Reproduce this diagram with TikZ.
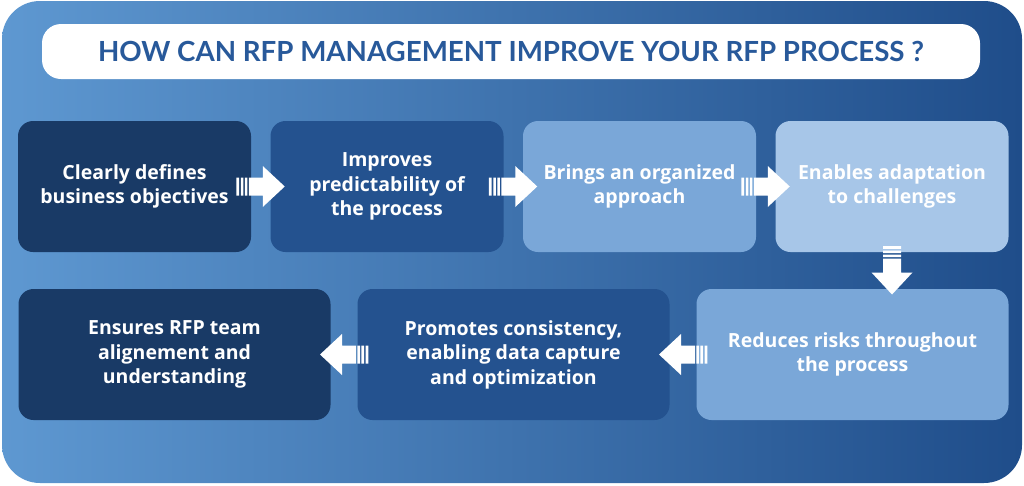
\documentclass[tikz,border=0pt]{standalone}
\usepackage{fontspec}
\setmainfont{Open Sans}
\newfontfamily\titlefont{Lato}
\usetikzlibrary{positioning}
\definecolor{bgleft}{HTML}{5E98D1}
\definecolor{bgright}{HTML}{1F4D8A}
\definecolor{titleblue}{HTML}{28599A}
\definecolor{navybox}{HTML}{193A66}
\definecolor{midbox}{HTML}{24528F}
\definecolor{lightbox}{HTML}{7AA7D8}
\definecolor{paleBox}{HTML}{A7C6E8}
\begin{document}
\begin{tikzpicture}
         [x=1pt, y=-1pt,
          step box/.style={rounded corners=15pt, inner sep=0pt, outer sep=0pt, minimum height=131pt,
                           text=white, align=center, font=\bfseries\fontsize{19.5}{24.5}\selectfont},
          short box/.style={step box, minimum width=233pt},
          long box/.style={step box, minimum width=312pt},
          stripe arrow/.pic={
             \fill[white] (-24.3,-9) rectangle (-21.7,9) (-20,-9) rectangle (-17.3,9) (-16,-9) rectangle (-13.3,9);
             \fill[white] (-12,-9) -- (2,-9) -- (2,-20.5) -- (24,0) -- (2,20.5) -- (2,9) -- (-12,9) -- cycle;
          }]
         \useasboundingbox (0,0) rectangle (1024,485);
         \shade[left color=bgleft, right color=bgright, rounded corners=38pt] (2,1) rectangle (1022,483);

         \node[fill=white, rounded corners=19pt, minimum width=938pt, minimum height=55pt, inner sep=0pt,
               text=titleblue, font=\titlefont\bfseries\fontsize{27.7}{30}\selectfont] (title) at (511,51.5)
               {HOW CAN RFP MANAGEMENT IMPROVE YOUR RFP PROCESS ?};

         \node[short box, fill=navybox] (b1) at (134.5,186.5) {Clearly defines\\business objectives};
         \node[short box, fill=midbox, right=19.5pt of b1] (b2) {Improves\\predictability of\\the process};
         \node[short box, fill=lightbox, right=19.5pt of b2] (b3) {Brings an organized\\approach};
         \node[short box, fill=paleBox, right=19.5pt of b3] (b4) {Enables adaptation\\to challenges};
         \node[long box, fill=lightbox, below=37pt of b4.south east, anchor=north east] (b5) {Reduces risks throughout\\the process};
         \node[long box, fill=midbox, left=27pt of b5] (b6) {Promotes consistency,\\enabling data capture\\and optimization};
         \node[long box, fill=navybox, left=27pt of b6] (b7) {Ensures RFP team\\alignement and\\understanding};

         \path (b1.east) -- pic[pos=0.5, sloped, allow upside down] {stripe arrow} (b2.west);
         \path (b2.east) -- pic[pos=0.5, sloped, allow upside down] {stripe arrow} (b3.west);
         \path (b3.east) -- pic[pos=0.5, sloped, allow upside down] {stripe arrow} (b4.west);
         \path (b4.south) -- pic[pos=0.5, sloped, allow upside down] {stripe arrow} (b4.south |- b5.north);
         \path (b5.west) -- pic[pos=0.5, sloped, allow upside down] {stripe arrow} (b6.east);
         \path (b6.west) -- pic[pos=0.5, sloped, allow upside down] {stripe arrow} (b7.east);
      \end{tikzpicture}
\end{document}
